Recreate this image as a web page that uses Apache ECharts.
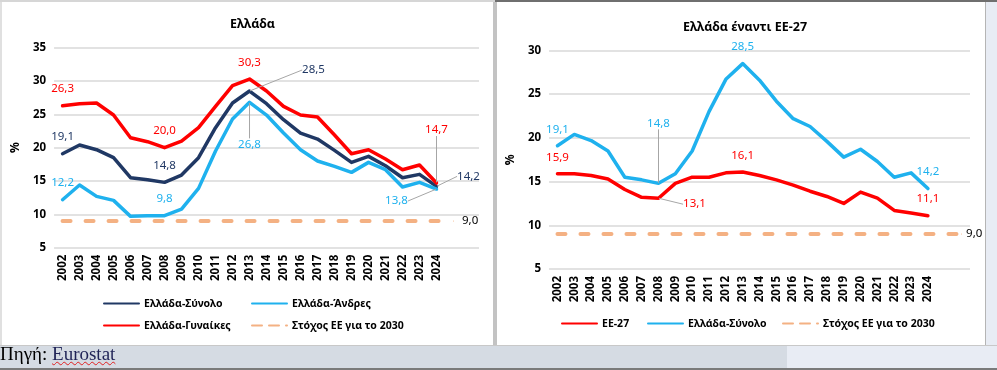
<!DOCTYPE html>
<html><head><meta charset="utf-8">
<script src="https://cdn.jsdelivr.net/npm/echarts@6/dist/echarts.min.js"></script>
<style>
html,body{margin:0;padding:0;}
body{width:997px;height:370px;position:relative;overflow:hidden;background:#fff;}
.abs{position:absolute;}
</style></head><body>
<div class="abs" style="left:0;top:0;width:495px;height:2px;background:#d6d6d6"></div>
<div class="abs" style="left:495px;top:0;width:502px;height:2px;background:#6f6f6f"></div>
<div class="abs" style="left:0;top:2px;width:2px;height:344px;background:#e0e0e0"></div>
<div class="abs" style="left:493px;top:2px;width:4px;height:344px;background:#c3c3c3"></div>
<div class="abs" style="left:985px;top:2px;width:1px;height:344px;background:#b5b5b5"></div>
<div class="abs" style="left:986px;top:2px;width:11px;height:344px;background:#e8ecf4"></div>
<div class="abs" style="left:0;top:345px;width:997px;height:1px;background:#c8c8c8"></div>
<div class="abs" style="left:0;top:346px;width:787px;height:22px;background:#d5dbe3"></div>
<div class="abs" style="left:787px;top:346px;width:210px;height:22px;background:#e8ecf4"></div>
<div class="abs" style="left:0;top:368px;width:997px;height:2px;background:#7a7a7a"></div>
<div id="left" class="abs" style="left:2px;top:2px;width:491px;height:343px"></div>
<div id="right" class="abs" style="left:497px;top:2px;width:488px;height:343px"></div>
<div class="abs" style="left:0;top:343px;font-family:'Liberation Serif',serif;font-size:19px;line-height:22px;color:#000;white-space:nowrap">Πηγή: <span style="color:#1f2356;text-decoration:underline wavy #e02020;text-decoration-thickness:1px;text-underline-offset:1px">Eurostat</span></div>
<script>
// ---------- DATA ----------
const yearLabels = ['2002','2003','2004','2005','2006','2007','2008','2009','2010','2011','2012','2013',
  '2014','2015','2016','2017','2018','2019','2020','2021','2022','2023','2024'];
const categories = yearLabels.concat(['', ' ']);
const grTotal = [19.1, 20.4, 19.7, 18.5, 15.5, 15.2, 14.8, 15.9, 18.5, 23.0, 26.7, 28.5,
  26.6, 24.2, 22.2, 21.3, 19.6, 17.8, 18.7, 17.3, 15.5, 16.0, 14.2];
const grMen = [12.2, 14.4, 12.7, 12.1, 9.7, 9.8, 9.8, 10.8, 13.9, 19.5, 24.3, 26.8,
  24.9, 22.2, 19.7, 18.0, 17.2, 16.3, 17.8, 16.7, 14.1, 14.8, 13.8];
const grWomen = [26.3, 26.6, 26.7, 24.9, 21.5, 20.9, 20.0, 21.0, 23.0, 26.2, 29.3, 30.3,
  28.5, 26.2, 24.9, 24.6, 21.9, 19.1, 19.7, 18.3, 16.7, 17.4, 14.7];
const eu27 = [15.9, 15.9, 15.7, 15.3, 14.1, 13.2, 13.1, 14.8, 15.5, 15.5, 16.0, 16.1,
  15.7, 15.2, 14.6, 13.9, 13.3, 12.5, 13.8, 13.1, 11.7, 11.4, 11.1];
const targetLeft = [9.0, 9.0, 9.0, 9.0, 9.0, 9.0, 9.0, 9.0, 9.0, 9.0, 9.0, 9.0,
  9.0, 9.0, 9.0, 9.0, 9.0, 9.0, 9.0, 9.0, 9.0, 9.0, 9.0, 9.0];
const targetRight = [9.0, 9.0, 9.0, 9.0, 9.0, 9.0, 9.0, 9.0, 9.0, 9.0, 9.0, 9.0,
  9.0, 9.0, 9.0, 9.0, 9.0, 9.0, 9.0, 9.0, 9.0, 9.0, 9.0, 9.0, 9.0];

const names = {
  total: 'Ελλάδα-Σύνολο', men: 'Ελλάδα-Άνδρες', women: 'Ελλάδα-Γυναίκες',
  target: 'Στόχος ΕΕ για το 2030', eu: 'ΕΕ-27'
};

// ---------- STYLE ----------
const FONT = 'Noto Sans';
const C = { navy: '#203864', cyan: '#1fb1ee', red: '#ff0000', target: '#f4b183', grid: '#d9d9d9', guide: '#a6a6a6', text: '#000' };
const fmt = v => v.toFixed(1).replace('.', ',');

function buildData(values, specs, labelColor) {
  return values.map((v, i) => {
    const s = specs[i];
    if (!s) return v;
    const moved = s.dx !== undefined;
    return {
      value: v, symbol: 'circle', symbolSize: 1,
      label: {
        show: true, position: moved ? 'inside' : (s.pos || 'top'), distance: s.dist != null ? s.dist : 10,
        color: labelColor, fontFamily: FONT, fontSize: 11.5, formatter: p => fmt(p.value)
      },
      labelLine: { show: moved, lineStyle: { color: C.guide, width: 1 } }
    };
  });
}
function layoutFrom(specs) {
  return p => { const s = specs[p.dataIndex]; return (s && s.dx !== undefined) ? { dx: s.dx, dy: s.dy } : {}; };
}
function lineSeries(name, values, color, specs, labelColor, lineExtra) {
  return {
    name, type: 'line', data: buildData(values, specs, labelColor || color),
    symbol: 'none', showSymbol: true, showAllSymbol: true, animation: false, silent: true,
    lineStyle: Object.assign({ color, width: 3.5, cap: 'round', join: 'round' }, lineExtra || {}),
    itemStyle: { color }, labelLayout: layoutFrom(specs)
  };
}
function axes(ymax, nameGap) {
  return {
    xAxis: {
      type: 'category', data: categories, boundaryGap: true,
      axisLine: { show: false }, axisTick: { show: false },
      axisLabel: { rotate: 90, interval: 0, margin: 7, color: C.text, fontFamily: FONT, fontSize: 11.5, fontWeight: 'bold' }
    },
    yAxis: {
      type: 'value', min: 5, max: ymax, interval: 5,
      name: '%', nameLocation: 'middle', nameGap, nameRotate: 90,
      nameTextStyle: { color: C.text, fontFamily: FONT, fontSize: 12, fontWeight: 'bold' },
      axisLine: { show: false }, axisTick: { show: false },
      axisLabel: { margin: 8, color: C.text, fontFamily: FONT, fontSize: 11.5, fontWeight: 'bold' },
      splitLine: { lineStyle: { color: C.grid, width: 1.5 } }
    }
  };
}
const legendText = { color: C.text, fontFamily: FONT, fontSize: 10.5, fontWeight: 'bold' };
function legend(name, left, top, dashed) {
  const item = { name };
  if (dashed) item.lineStyle = { type: [10, 7] };
  return { data: [item], left, top, itemWidth: 35, itemHeight: 14, selectedMode: false,
    textStyle: legendText, padding: 0, itemStyle: { opacity: 0 } };
}
const targetDash = { color: C.target, width: 4, type: [8, 15], cap: 'round' };

// ---------- LEFT CHART ----------
const leftChart = echarts.init(document.getElementById('left'));
const lAx = axes(35, 31);
leftChart.setOption({
  animation: false,
  title: { text: 'Ελλάδα', left: 245.5, top: 11, textAlign: 'center',
    textStyle: { fontFamily: FONT, fontSize: 12.5, fontWeight: 'bold', color: C.text } },
  grid: { left: 52, right: 14, top: 45.7, bottom: 97.3 },
  xAxis: lAx.xAxis, yAxis: lAx.yAxis,
  legend: [
    legend(names.total, 101, 296), legend(names.men, 249, 296),
    legend(names.women, 101, 318), legend(names.target, 249, 318, true)
  ],
  series: [
    lineSeries(names.total, grTotal, C.navy, { 0: {}, 6: {}, 11: { dx: 64, dy: -21 }, 22: { dx: 32, dy: -10 } }),
    lineSeries(names.men, grMen, C.cyan, { 0: {}, 6: {}, 11: { dx: 0, dy: 42 }, 22: { dx: -40, dy: 12 } }),
    lineSeries(names.women, grWomen, C.red, { 0: {}, 6: {}, 11: {}, 22: { dx: 0, dy: -53 } }),
    lineSeries(names.target, targetLeft, C.target, { 23: { pos: 'right', dist: 8 } }, C.text, targetDash)
  ]
});

// ---------- RIGHT CHART ----------
const rightChart = echarts.init(document.getElementById('right'));
const rAx = axes(30, 32);
rightChart.setOption({
  animation: false,
  title: { text: 'Ελλάδα έναντι ΕΕ-27', left: 243, top: 14, textAlign: 'center',
    textStyle: { fontFamily: FONT, fontSize: 12.5, fontWeight: 'bold', color: C.text } },
  grid: { left: 51, right: 15, top: 48.5, bottom: 76 },
  xAxis: rAx.xAxis, yAxis: rAx.yAxis,
  legend: [
    legend(names.eu, 64, 316), legend(names.total, 150, 316), legend(names.target, 285, 316, true)
  ],
  series: [
    lineSeries(names.eu, eu27, C.red, { 0: {}, 6: { dx: 36, dy: 6 }, 11: {}, 22: {} }),
    lineSeries(names.total, grTotal, C.cyan, { 0: {}, 6: { dx: 0, dy: -60 }, 11: {}, 22: {} }),
    lineSeries(names.target, targetRight, C.target, { 24: { pos: 'right', dist: 4 } }, C.text, targetDash)
  ]
});
</script>
</body></html>
